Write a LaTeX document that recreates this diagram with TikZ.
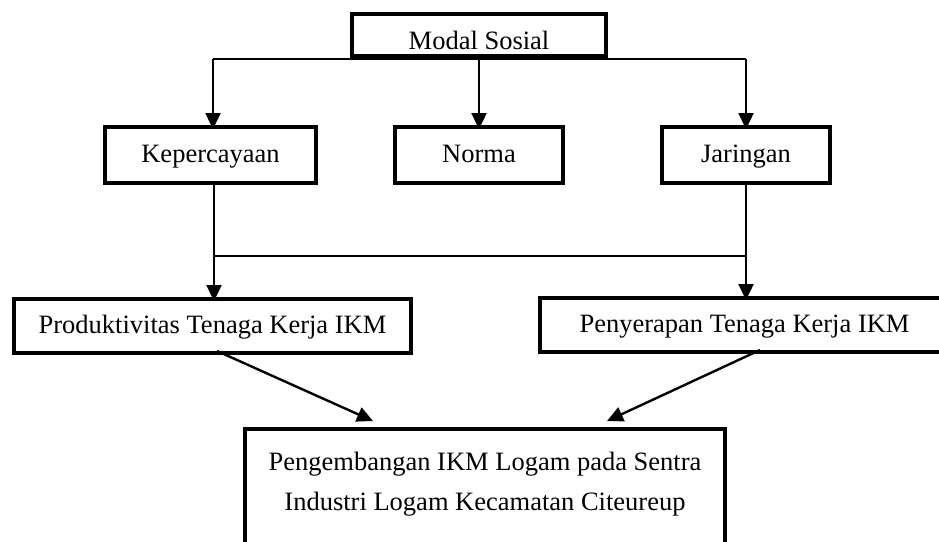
\documentclass[tikz,border=0pt]{standalone}
\usepackage{fontspec}
\setmainfont{Liberation Serif}
\usetikzlibrary{arrows.meta}
\begin{document}
\begin{tikzpicture}[x=1pt,y=-1pt,
  box/.style={draw, line width=4pt, fill=white, inner sep=0pt, outer sep=0pt,
    font=\fontsize{26.5}{40}\selectfont},
  onebox/.style={box, text height=19pt, text depth=5pt},
  txt/.style={inner sep=0pt, font=\fontsize{26.5}{40}\selectfont},
  arr/.style={line width=2.4pt, -{Triangle[length=16pt,width=15pt]}},
  thinline/.style={line width=1.4pt},
  thickline/.style={line width=2.4pt}]
\useasboundingbox (0,0) rectangle (939,541);
% boxes
\node[box, minimum width=254, minimum height=42, text height=28pt, text depth=0pt] (ms) at (479,35) {Modal Sosial};
\node[onebox, minimum width=211, minimum height=56] (kep) at (210.5,155) {Kepercayaan};
\node[onebox, minimum width=168, minimum height=56] (norma) at (479,155) {Norma};
\node[onebox, minimum width=168, minimum height=56] (jar) at (746,155) {Jaringan};
\node[onebox, minimum width=397, minimum height=54] (prod) at (212.5,326) {Produktivitas Tenaga Kerja IKM};
\node[onebox, minimum width=409, minimum height=54] (pen) at (744.5,325) {Penyerapan Tenaga Kerja IKM};
\node[box, minimum width=480, minimum height=141] (dev) at (485,499.5) {};
\node[txt, align=center] (devtext) at (485,484) {Pengembangan IKM Logam pada Sentra\\Industri Logam Kecamatan Citeureup};
% coordinates
\coordinate (tl) at (213,59);
\coordinate (tr) at (746,59);
\coordinate (bl) at (214,256);
\coordinate (br) at (746,256);
\coordinate (lt) at (373,421);
\coordinate (rt) at (607,421);
% top connectors
\draw[thinline] (tl) -- (tr);
\draw[arr] (tl) -- ([yshift=-2pt]tl |- kep.north);
\draw[arr] (ms.south) -- ([yshift=-2pt]norma.north);
\draw[arr] (tr) -- ([yshift=-2pt]tr |- jar.north);
% middle connectors
\draw[thinline] ([yshift=2pt]bl |- kep.south) -- (bl);
\draw[thinline] ([yshift=2pt]br |- jar.south) -- (br);
\draw[thickline] (bl) -- (br);
\draw[arr] (bl) -- ([yshift=-2pt]bl |- prod.north);
\draw[arr] (br) -- ([yshift=-2pt]br |- pen.north);
% bottom connectors
\draw[arr] ([xshift=4.5pt,yshift=2pt]prod.south) -- (lt);
\draw[arr] ([xshift=15.5pt,yshift=2pt]pen.south) -- (rt);
\end{tikzpicture}
\end{document}
